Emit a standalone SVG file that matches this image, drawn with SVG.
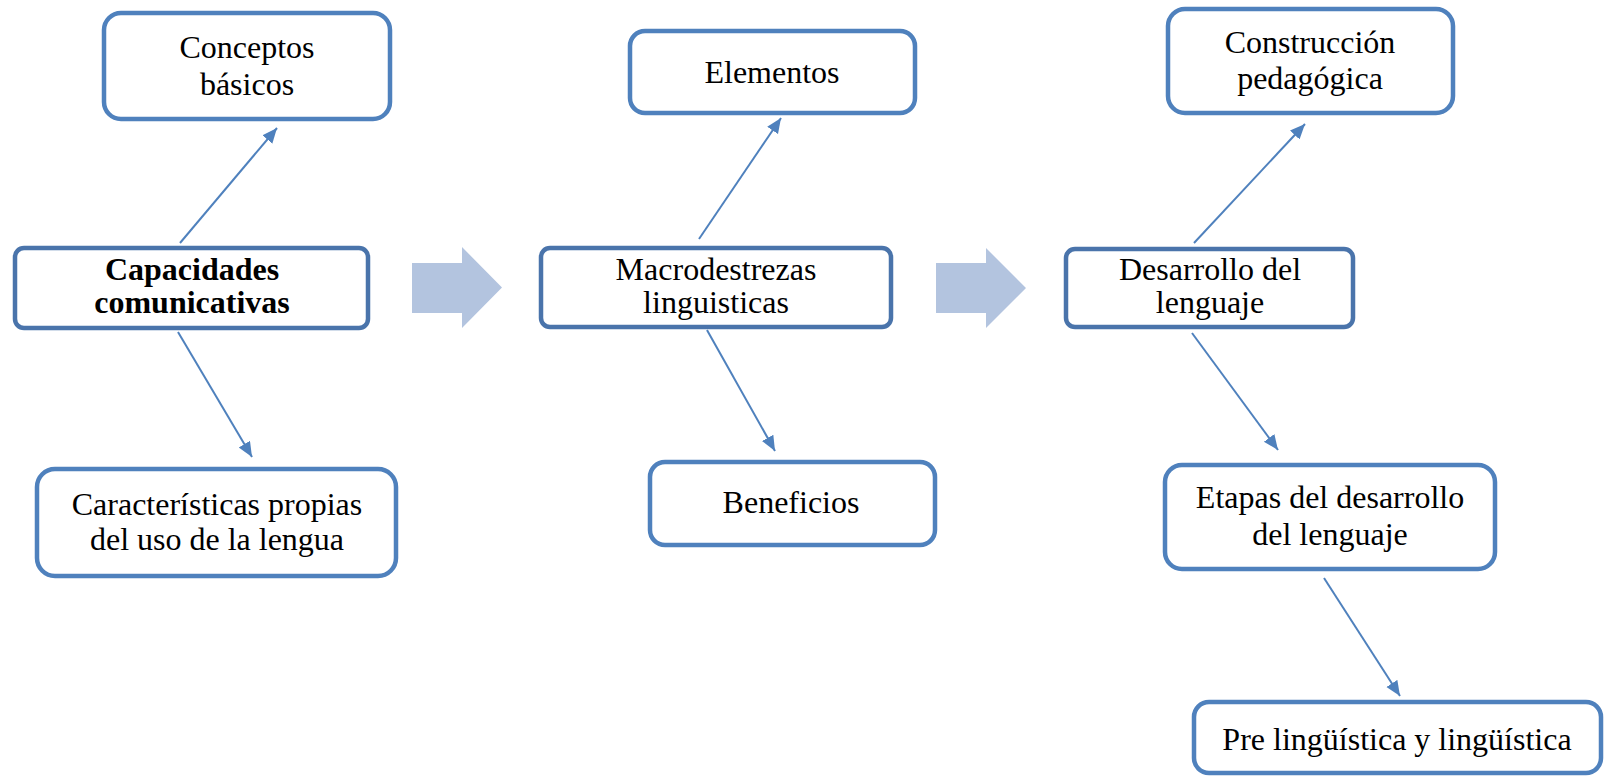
<svg xmlns="http://www.w3.org/2000/svg" width="1606" height="777" viewBox="0 0 1606 777">
<style>
.box{fill:#ffffff;stroke:#4f81bd;stroke-width:4.5}
.main{fill:#ffffff;stroke:#4a74ab;stroke-width:4.5}
.t{font-family:"Liberation Serif","Times New Roman",serif;font-size:32px;fill:#000;text-anchor:middle}
.b{font-weight:bold}
.c{stroke:#4f81bd;stroke-width:2;fill:none;marker-end:url(#ah)}
.big{fill:#b3c4df}
</style>
<defs>
<marker id="ah" markerUnits="userSpaceOnUse" markerWidth="16" markerHeight="14" refX="15" refY="6.5" orient="auto">
<path d="M0,0 L15,6.5 L0,13 z" fill="#4f81bd"/>
</marker>
</defs>
<rect width="1606" height="777" fill="#ffffff"/>
<g id="connectors">
<line class="c" x1="180" y1="243" x2="277" y2="128"/>
<line class="c" x1="178" y1="332" x2="252" y2="457"/>
<line class="c" x1="699" y1="239" x2="781" y2="118"/>
<line class="c" x1="707" y1="330" x2="775" y2="451"/>
<line class="c" x1="1194" y1="243" x2="1305" y2="124"/>
<line class="c" x1="1192" y1="333" x2="1278" y2="450"/>
<line class="c" x1="1324" y1="578" x2="1400" y2="696"/>
<polygon class="big" points="412,263 462,263 462,247 502,287.5 462,328 462,313 412,313"/>
<polygon class="big" points="936,263 986,263 986,248 1026,288 986,328 986,313 936,313"/>
</g>
<g id="conceptos">
<rect class="box" x="104" y="13" width="286" height="106" rx="17"/>
<text class="t" x="247" y="58">Conceptos</text>
<text class="t" x="247" y="95">básicos</text>
</g>
<g id="capacidades">
<rect class="main" x="15" y="248" width="353" height="80" rx="9"/>
<text class="t b" x="192" y="280">Capacidades</text>
<text class="t b" x="192" y="313">comunicativas</text>
</g>
<g id="caracteristicas">
<rect class="box" x="37" y="469" width="359" height="107" rx="18"/>
<text class="t" x="217" y="515">Características propias</text>
<text class="t" x="217" y="550">del uso de la lengua</text>
</g>
<g id="elementos">
<rect class="box" x="630" y="31" width="285" height="82" rx="15"/>
<text class="t" x="772" y="83">Elementos</text>
</g>
<g id="macrodestrezas">
<rect class="main" x="541" y="248" width="350" height="79" rx="9"/>
<text class="t" x="716" y="280">Macrodestrezas</text>
<text class="t" x="716" y="313">linguisticas</text>
</g>
<g id="beneficios">
<rect class="box" x="650" y="462" width="285" height="83" rx="15"/>
<text class="t" x="791" y="513">Beneficios</text>
</g>
<g id="construccion">
<rect class="box" x="1168" y="9" width="285" height="104" rx="17"/>
<text class="t" x="1310" y="53">Construcción</text>
<text class="t" x="1310" y="89">pedagógica</text>
</g>
<g id="desarrollo">
<rect class="main" x="1066" y="249" width="287" height="78" rx="9"/>
<text class="t" x="1210" y="280">Desarrollo del</text>
<text class="t" x="1210" y="313">lenguaje</text>
</g>
<g id="etapas">
<rect class="box" x="1165" y="465" width="330" height="104" rx="17"/>
<text class="t" x="1330" y="508">Etapas del desarrollo</text>
<text class="t" x="1330" y="545">del lenguaje</text>
</g>
<g id="pre">
<rect class="box" x="1194" y="702" width="407" height="71" rx="15"/>
<text class="t" x="1397" y="750">Pre lingüística y lingüística</text>
</g>
</svg>
